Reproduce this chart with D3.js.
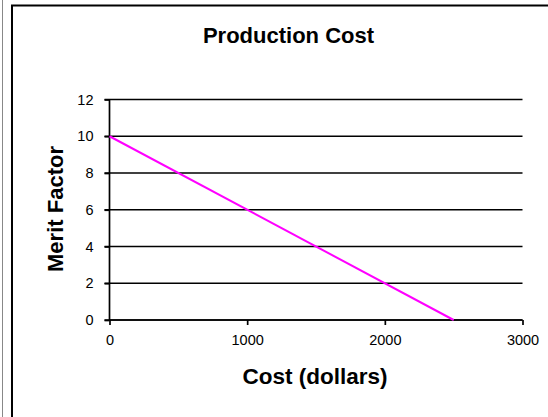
<!DOCTYPE html>
<html>
<head>
<meta charset="utf-8">
<script src="https://cdn.jsdelivr.net/npm/d3@7"></script>
<style>
  body { margin: 0; background: #fff; }
  text { font-family: Arial, "Liberation Sans", sans-serif; fill: #000; }
  .tick text { font-size: 14.5px; }
</style>
</head>
<body>
<div id="chart"></div>
<script>
const costs = [0, 2500];
const merit = [10, 0];
const xTicks = [0, 1000, 2000, 3000];
const yTicks = [0, 2, 4, 6, 8, 10, 12];

const W = 548, H = 417;
const pad = { l: 109.5, r: 25.5, t: 99.5, b: 97 };

const svg = d3.select('#chart').append('svg')
  .attr('width', W).attr('height', H);

// outer frame (extends past the window like the reference crop)
svg.append('line')
  .attr('x1', 2.5).attr('x2', 2.5).attr('y1', 0).attr('y2', H)
  .attr('stroke', '#888').attr('stroke-width', 1);
svg.append('rect')
  .attr('x', 12).attr('y', 5.5)
  .attr('width', W + 20).attr('height', H + 20)
  .attr('fill', 'none').attr('stroke', '#000').attr('stroke-width', 2);

const innerW = W - pad.l - pad.r;
const innerH = H - pad.t - pad.b;
const x = d3.scaleLinear().domain([0, 3000]).range([0, innerW]);
const y = d3.scaleLinear().domain([0, 12]).range([innerH, 0]);

const chart = svg.append('g')
  .attr('transform', `translate(${pad.l}, ${pad.t})`);

// gridlines
chart.append('g').selectAll('line')
  .data(yTicks)
  .join('line')
  .attr('x1', -5).attr('x2', innerW)
  .attr('y1', d => y(d)).attr('y2', d => y(d))
  .attr('stroke', '#000').attr('stroke-width', 1.7);

const xg = chart.append('g')
  .attr('transform', `translate(0, ${innerH})`)
  .call(d3.axisBottom(x).tickValues(xTicks).tickSize(5).tickPadding(10).tickFormat(d3.format('d')));
const yg = chart.append('g')
  .call(d3.axisLeft(y).tickValues(yTicks).tickSize(5).tickPadding(11));

[xg, yg].forEach(g => {
  g.attr('font-size', null).attr('font-family', null);
  g.select('.domain').attr('stroke', '#000').attr('stroke-width', 1.7);
  g.selectAll('.tick line').attr('stroke', '#000').attr('stroke-width', 1.7);
  g.selectAll('.tick text').attr('fill', '#000');
});
yg.select('.domain').attr('d', `M0,${innerH}V0`);
xg.select('.domain').attr('d', `M0,0H${innerW}`);

// data line
const line = d3.line()
  .x((d, i) => x(costs[i]))
  .y(d => y(d));
chart.append('path')
  .datum(merit)
  .attr('d', line)
  .attr('fill', 'none')
  .attr('stroke', '#ff00ff')
  .attr('stroke-width', 2);

// titles
svg.append('text')
  .attr('x', 288.5).attr('y', 43)
  .attr('text-anchor', 'middle')
  .attr('font-size', 22).attr('font-weight', 'bold')
  .text('Production Cost');
svg.append('text')
  .attr('x', 315).attr('y', 384)
  .attr('text-anchor', 'middle')
  .attr('font-size', 22.5).attr('font-weight', 'bold')
  .text('Cost (dollars)');
svg.append('text')
  .attr('transform', 'translate(63, 209) rotate(-90)')
  .attr('text-anchor', 'middle')
  .attr('font-size', 22).attr('font-weight', 'bold')
  .text('Merit Factor');
</script>
</body>
</html>
